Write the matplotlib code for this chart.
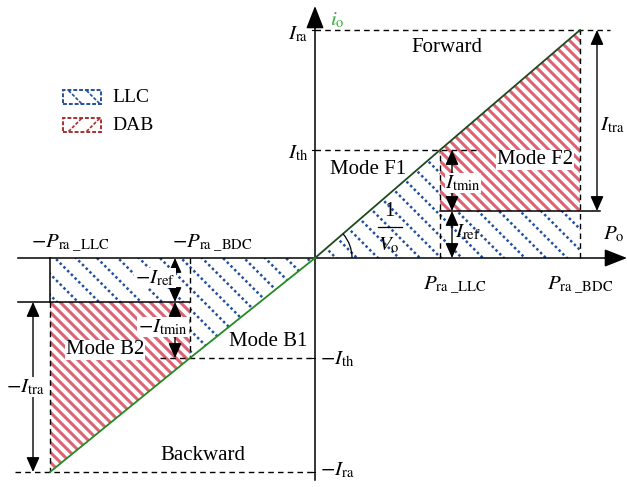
import matplotlib.pyplot as plt
import numpy as np
from matplotlib.patches import Polygon, Rectangle, Arc

plt.rcParams['font.family'] = ['Liberation Serif', 'DejaVu Serif']
plt.rcParams['mathtext.fontset'] = 'stix'

# operating limits (forward side positive, backward side negative)
P_llc, P_bdc = 125, 265
I_ra, I_th, I_ref = 228, 108, 47
nP_llc, nP_bdc = -265, -125
nI_ra, nI_th, nI_ref = -214, -100, -44

# boundary line i_o = P_o / V_o
diag_P = [nP_llc, nP_bdc, 0, P_llc, P_bdc]
diag_I = [nI_ra, nI_th, 0, I_th, I_ra]

llc_fwd = [(0, 0), (P_llc, I_th), (P_llc, I_ref), (P_bdc, I_ref), (P_bdc, 0)]
dab_fwd = [(P_llc, I_th), (P_bdc, I_ra), (P_bdc, I_ref), (P_llc, I_ref)]
llc_bwd = [(nP_llc, 0), (0, 0), (nP_bdc, nI_th), (nP_bdc, nI_ref), (nP_llc, nI_ref)]
dab_bwd = [(nP_llc, nI_ref), (nP_bdc, nI_ref), (nP_bdc, nI_th), (nP_llc, nI_ra)]

BLUE = '#22509e'
RED = '#d8485a'

fig = plt.figure(figsize=(6.27, 4.87), dpi=100)
ax = fig.add_axes([0, 0, 1, 1])
ax.set_xlim(-315, 312)
ax.set_ylim(-229, 258)
ax.axis('off')


def hatch(ax, pts, step, **kw):
    poly = Polygon(pts, closed=True, facecolor='white', edgecolor='none', zorder=1)
    ax.add_patch(poly)
    xs = [p[0] for p in pts]
    ys = [p[1] for p in pts]
    lo = min(xs) + min(ys) - step
    hi = max(xs) + max(ys) + step
    for c in np.arange(lo, hi, step):
        x = np.array([min(xs) - 5, max(xs) + 5])
        ln, = ax.plot(x, c - x, zorder=2, solid_capstyle='butt', **kw)
        ln.set_clip_path(poly)


blue_kw = dict(color=BLUE, lw=1.8, linestyle=(0, (1.0, 1.1)))
red_kw = dict(color=RED, lw=2.2, alpha=0.85)
hatch(ax, llc_fwd, 21, **blue_kw)
hatch(ax, llc_bwd, 21, **blue_kw)
hatch(ax, dab_fwd, 10, **red_kw)
hatch(ax, dab_bwd, 10, **red_kw)

k = dict(color='k', lw=1.1, zorder=4)
kd = dict(color='k', lw=1.0, linestyle=(0, (4, 3)), zorder=4)

# axes with arrow heads
ax.plot([-297, 300], [0, 0], **k)
ax.plot([0, 0], [-222, 240], **k)
ax.annotate('', xy=(312, 0), xytext=(290, 0),
            arrowprops=dict(arrowstyle='-|>,head_length=1.4,head_width=0.55',
                            color='k', lw=1.1, mutation_scale=10, shrinkA=0, shrinkB=0))
ax.annotate('', xy=(0, 252), xytext=(0, 230),
            arrowprops=dict(arrowstyle='-|>,head_length=1.4,head_width=0.55',
                            color='k', lw=1.1, mutation_scale=10, shrinkA=0, shrinkB=0))
for lev in [I_ra, I_th, nI_th, nI_ra]:
    ax.plot([-3, 0], [lev, lev], color='k', lw=0.8)

# forward side guides
ax.plot([0, 295], [I_ra, I_ra], **kd)
ax.plot([P_bdc, P_bdc], [0, I_ra], **kd)
ax.plot([0, 163], [I_th, I_th], **kd)
ax.plot([P_llc, P_llc], [0, I_th], **kd)
ax.plot([P_llc, 285], [I_ref, I_ref], **k)

# backward side guides
ax.plot([-297, nP_bdc], [nI_ref, nI_ref], **k)
ax.plot([nP_llc, nP_llc], [0, nI_ref], **k)
ax.plot([nP_llc, nP_llc], [nI_ref, nI_ra], **kd)
ax.plot([nP_bdc, nP_bdc], [0, nI_th], **kd)
ax.plot([-155, 0], [nI_th, nI_th], **kd)
ax.plot([-300, 0], [nI_ra, nI_ra], **kd)

ax.plot(diag_P[2:], diag_I[2:], color='#1f4a1f', lw=1.3, zorder=5)
ax.plot(diag_P[:3], diag_I[:3], color='#238b23', lw=1.3, zorder=5)

# slope angle
ax.add_patch(Arc((0, 0), 74, 74, theta1=0, theta2=np.degrees(np.arctan2(I_ra, P_bdc)),
                 color='k', lw=0.9, zorder=5))


def dim(x, y0, y1):
    ax.annotate('', xy=(x, y0), xytext=(x, y1),
                arrowprops=dict(arrowstyle='<|-|>,head_length=0.9,head_width=0.4',
                                color='k', lw=1.0, mutation_scale=10,
                                shrinkA=0, shrinkB=0), zorder=6)


dim(282, I_ra, I_ref)
dim(137, I_th, I_ref)
dim(137, I_ref, 0)
dim(-140, 0, nI_ref)
dim(-140, nI_ref, nI_th)
dim(-282, nI_ref, nI_ra)

fs = 15
wb = dict(facecolor='white', edgecolor='none', pad=0.5)
tx = dict(fontsize=fs, ha='center', va='center', zorder=7)

ax.text(-7, 224, r'$I_{\mathrm{ra}}$', fontsize=fs, ha='right', va='center')
ax.text(-7, 105, r'$I_{\mathrm{th}}$', fontsize=fs, ha='right', va='center')
ax.text(5, -101, r'$-I_{\mathrm{th}}$', fontsize=fs, ha='left', va='center')
ax.text(5, -212, r'$-I_{\mathrm{ra}}$', fontsize=fs, ha='left', va='center')
ax.text(140, -27, r'$P_{\mathrm{ra\ \_LLC}}$', **tx)
ax.text(265, -27, r'$P_{\mathrm{ra\ \_BDC}}$', **tx)
ax.text(-245, 15, r'$-P_{\mathrm{ra\ \_LLC}}$', **tx)
ax.text(-103, 15, r'$-P_{\mathrm{ra\ \_BDC}}$', **tx)
ax.text(15, 238, r'$i_{\mathrm{o}}$', fontsize=fs, ha='left', va='center', color='#3aaa3a')
ax.text(288, 24, r'$P_{\mathrm{o}}$', fontsize=fs, ha='left', va='center')

ax.text(132, 211, 'Forward', **tx)
ax.text(53, 88, 'Mode F1', **tx)
ax.text(220, 98, 'Mode F2', bbox=wb, **tx)
ax.text(-47, -84, 'Mode B1', **tx)
ax.text(-210, -92, 'Mode B2', bbox=wb, **tx)
ax.text(-112, -198, 'Backward', **tx)

ax.text(297, 133, r'$I_{\mathrm{tra}}$', bbox=wb, **tx)
ax.text(148, 75, r'$I_{\mathrm{tmin}}$', bbox=wb, **tx)
ax.text(153, 26, r'$I_{\mathrm{ref}}$', **tx)
ax.text(-160, -20, r'$-I_{\mathrm{ref}}$', bbox=wb, **tx)
ax.text(-152, -69, r'$-I_{\mathrm{tmin}}$', bbox=wb, **tx)
ax.text(-290, -129, r'$-I_{\mathrm{tra}}$', bbox=wb, **tx)

ax.text(74, 46, '1', **tx)
ax.plot([63, 87], [31, 31], color='k', lw=0.9, zorder=7)
ax.text(74, 13, r'$V_{\mathrm{o}}$', **tx)

# legend
for (y0, col, lab, sgn) in [(154, BLUE, 'LLC', -1), (126, '#a83030', 'DAB', 1)]:
    box = Rectangle((-252, y0), 38, 14, facecolor='white', edgecolor=col,
                    lw=1.4, linestyle=(0, (2, 1)), zorder=6)
    ax.add_patch(box)
    for x0 in [-240, -222]:
        ln, = ax.plot([x0 - 10, x0 + 10], [y0 + 7 - sgn * 10, y0 + 7 + sgn * 10],
                      color=col, lw=1.2, linestyle=(0, (2, 1)), zorder=6)
        ln.set_clip_path(box)
    ax.text(-203, y0 + 7, lab, fontsize=14, ha='left', va='center')

fig.savefig('out.png', dpi=100)
